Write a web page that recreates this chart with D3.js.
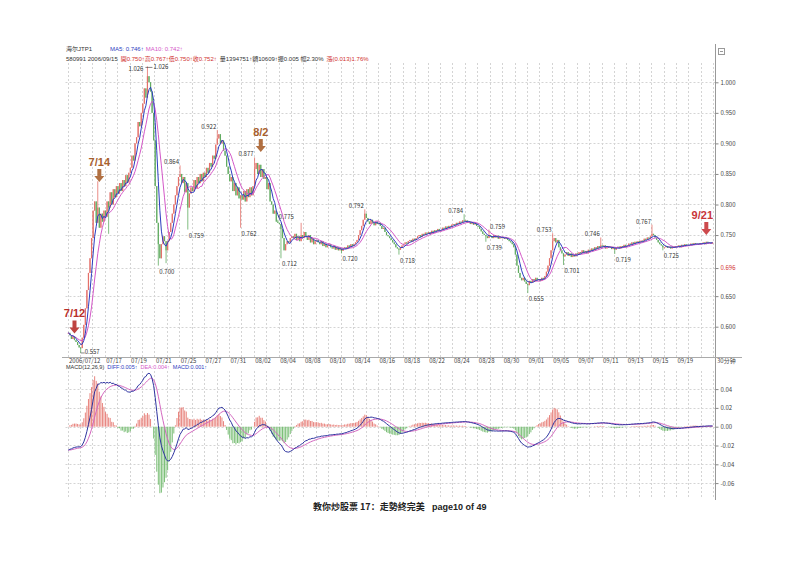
<!DOCTYPE html>
<html><head><meta charset="utf-8">
<script src="https://cdn.jsdelivr.net/npm/d3@7/dist/d3.min.js"></script>
<style>body{margin:0;background:#fff}svg{display:block}</style>
</head><body><svg id="c" width="800" height="566"></svg>
<script>
// ---------- DATA ----------
const dayLabels = ["07/12","07/13","07/14","07/17","07/18","07/19","07/20","07/21","07/24","07/25","07/26","07/27","07/28","07/31",
 "08/01","08/02","08/03","08/04","08/07","08/08","08/09","08/10","08/11","08/14","08/15","08/16","08/17","08/18",
 "08/21","08/22","08/23","08/24","08/25","08/28","08/29","08/30","08/31",
 "09/01","09/04","09/05","09/06","09/07","09/08","09/11","09/12","09/13","09/14","09/15","09/18","09/19","09/20","09/21"];
const barsPerDay = 8;
const xTickDays = [0,3,5,7,9,11,13,15,17,19,21,23,25,27,29,31,33,35,37,39,41,43,45,47,49];
const xTickLabels = ["2006/07/12","07/17","07/19","07/21","07/25","07/27","07/31","08/02","08/04","08/08","08/10","08/14","08/16",
 "08/18","08/22","08/24","08/28","08/30","09/01","09/05","09/07","09/11","09/13","09/15","09/19"];
// 30-minute closes, in thousandths of a yuan
const closes = [
 590,586,580,584,578,575,570,566,
 565,582,603,630,660,688,712,745,
 790,805,770,795,762,785,772,790,
 780,805,795,820,800,825,812,830,
 818,835,822,840,830,848,836,852,
 860,880,872,900,910,935,928,950,
 965,990,975,1010,1000,985,950,905,
 830,770,735,712,735,748,740,725,
 740,755,770,785,800,815,830,845,
 850,835,845,820,835,795,818,828,
 822,840,826,845,835,850,838,852,
 845,860,852,868,862,880,875,898,
 908,915,900,905,888,880,862,850,
 838,845,822,835,815,828,810,815,
 808,822,805,825,812,828,815,830,
 858,868,850,865,845,858,842,845,
 825,835,805,800,785,790,772,770,
 768,760,745,725,735,740,738,745,
 748,745,752,742,748,740,750,745,
 755,748,742,750,738,745,735,740,
 742,738,735,740,732,736,730,733,
 735,730,728,732,726,730,725,728,
 724,728,730,727,733,730,735,732,
 735,738,742,750,758,765,775,785,
 778,772,768,775,770,766,772,768,
 770,765,760,762,755,750,748,745,
 742,738,735,730,728,726,730,733,
 735,738,736,740,742,739,744,742,
 745,748,750,747,752,750,754,752,
 755,752,757,754,758,756,760,757,
 758,762,760,764,761,765,763,767,
 768,766,770,768,772,770,774,772,
 774,770,772,768,771,767,769,765,
 764,760,756,752,750,748,745,750,
 748,745,750,746,749,744,747,745,
 746,744,745,742,740,738,735,730,
 718,700,688,680,676,680,674,670,
 668,675,672,678,674,680,676,678,
 675,680,678,683,690,700,712,725,
 740,745,738,742,730,725,720,715,
 718,722,716,720,714,718,715,720,
 718,722,720,725,721,724,720,726,
 724,728,725,730,727,732,729,733,
 731,733,728,732,729,731,727,730,
 726,729,731,728,732,730,734,731,
 733,736,734,738,735,739,737,740,
 738,741,739,744,742,746,744,748,
 752,750,746,742,738,735,733,730,
 730,732,729,731,728,731,729,732,
 731,733,730,734,732,735,733,734,
 733,736,734,737,735,736,734,737,
 736,738,735,739,737,738,736,738
];
// extreme wicks: bar index, price (thousandths), kind (H/L labelled, h/l unlabelled)
const extremeBars   = [8,  19, 26, 51,  58, 63, 72, 77, 96, 111,120,135,137,150,176,191,213,255,269,271,296,312,319,343,352,376,383];
const extremeValues = [557,838,752,1026,700,704,864,759,922,762,877,775,712,770,720,792,718,784,739,759,655,753,701,746,719,767,725];
const extremeKinds  = ["L","h","l","H","L","l","H","L","H","L","H","H","L","h","L","H","L","H","L","H","L","H","L","H","L","H","L"];
const highLabelsOnRight = [135, 271];
// MACD seeds (values before the first bar)
const seedEma12 = 0.600, seedEma26 = 0.626, seedDea = -0.025;
// axis ticks
const priceTicks = [0.600,0.650,0.696,0.750,0.800,0.850,0.900,0.950,1.000];
const priceTickLabels = ["0.600","0.650","0.696","0.750","0.800","0.850","0.900","0.950","1.000"];
const macdTicks = [0.04,0.02,0,-0.02,-0.04,-0.06];
const macdTickLabels = ["0.04","0.02","0.00","-0.02","-0.04","-0.06"];
// hand annotations: text, bar, price at arrow tip
const noteTexts = ["7/12","7/14","8/2","9/21"];
const noteBars = [4,20,124,411];
const notePrices = [0.589,0.837,0.886,0.750];
// header texts
const header1 = [["海尔JTP1","#333"],["MA5: 0.746↑","#2c3cc0"],["MA10: 0.742↑","#d458c8"]];
const header2 = [["580991 2006/09/15","#333"],["開0.750↑高0.767↑低0.750↑收0.752↑","#d03030"],["量1394751↑額10609↑振0.005 幅2.30%","#333"],["漲(0.013)1.76%","#d03030"]];
const macdHeader = [["MACD(12,26,9)","#333"],["DIFF:0.005↑","#2c3cc0"],["DEA:0.004↑","#d458c8"],["MACD:0.001↑","#2c3cc0"]];

// ---------- STYLE ----------
const noteColors = ["#b8302c","#a8602e","#a8602e","#c8363a"];
const UP="#e4706a", DN="#62ac62";
const C_MA5="#2c3cc0", C_MA10="#d458c8", C_DIFF="#2e34a0", C_DEA="#d468c0";
const F="'Noto Sans CJK SC','DejaVu Sans',sans-serif";
const FH="'Liberation Sans','Noto Sans CJK SC',sans-serif";

const svg = d3.select("#c");
const N = closes.length;
const L = 67.5, R = 713.3, AX = 715.5;
const x = d3.scaleLinear().domain([0, N]).range([L, R]);
const xc = i => x(i + 0.5);
const y = d3.scaleLinear().domain([0.6, 1.0]).range([326.7, 82.3]);
const ym = d3.scaleLinear().domain([0, 0.04]).range([426.7, 389.1]);
const mainTop = 63, mainBot = 357, macdTop = 371, macdBot = 498;

// bars
const bars = closes.map((c, i) => {
  const cv = c / 1000, ov = (i === 0 ? closes[0] : closes[i - 1]) / 1000;
  return {i, o: ov, c: cv, h: Math.max(ov, cv), l: Math.min(ov, cv)};
});
extremeBars.forEach((b, k) => {
  const v = extremeValues[k] / 1000;
  if (extremeKinds[k].toUpperCase() === "H") bars[b].h = Math.max(bars[b].h, v);
  else bars[b].l = Math.min(bars[b].l, v);
});

// moving averages
function ma(n) { return closes.map((c, i) => d3.mean(closes.slice(Math.max(0, i - n + 1), i + 1)) / 1000); }
const ma5 = ma(5), ma10 = ma(10);
// MACD
let e12 = seedEma12, e26 = seedEma26, dea = seedDea;
const diffs = [], deas = [], hist = [];
closes.forEach(c => {
  const v = c / 1000;
  e12 = e12 * 11 / 13 + v * 2 / 13;
  e26 = e26 * 25 / 27 + v * 2 / 27;
  const d = e12 - e26;
  dea = dea * 8 / 10 + d * 2 / 10;
  diffs.push(d); deas.push(dea); hist.push(2 * (d - dea));
});

// ---------- GRID ----------
const g = svg.append("g");
const dayIdx = d3.range(0, dayLabels.length + 1);
g.selectAll(".vg").data(dayIdx).join("line")
  .attr("x1", d => Math.round(x(d * barsPerDay)) + 0.5).attr("x2", d => Math.round(x(d * barsPerDay)) + 0.5)
  .attr("y1", mainTop).attr("y2", mainBot).attr("stroke", "#d4d4d4").attr("stroke-dasharray", "2,2");
g.selectAll(".vg2").data(dayIdx).join("line")
  .attr("x1", d => Math.round(x(d * barsPerDay)) + 0.5).attr("x2", d => Math.round(x(d * barsPerDay)) + 0.5)
  .attr("y1", macdTop).attr("y2", macdBot).attr("stroke", "#d4d4d4").attr("stroke-dasharray", "2,2");
g.selectAll(".hg").data(priceTicks).join("line")
  .attr("x1", L - 2).attr("x2", AX).attr("y1", d => Math.round(y(d)) + 0.5).attr("y2", d => Math.round(y(d)) + 0.5)
  .attr("stroke", "#d4d4d4").attr("stroke-dasharray", "2,2");
g.selectAll(".hg2").data(macdTicks).join("line")
  .attr("x1", L - 2).attr("x2", AX).attr("y1", d => Math.round(ym(d)) + 0.5).attr("y2", d => Math.round(ym(d)) + 0.5)
  .attr("stroke", "#d4d4d4").attr("stroke-dasharray", "2,2");

// frame lines
svg.append("line").attr("x1", AX).attr("x2", AX).attr("y1", 44).attr("y2", 500).attr("stroke", "#999");
svg.append("line").attr("x1", 62).attr("x2", 742).attr("y1", 357.5).attr("y2", 357.5).attr("stroke", "#aaa");
svg.append("rect").attr("x", 718.5).attr("y", 48.5).attr("width", 6).attr("height", 6).attr("fill", "none").attr("stroke", "#999");
svg.append("line").attr("x1", 720).attr("x2", 723).attr("y1", 51.5).attr("y2", 51.5).attr("stroke", "#999");

// ---------- AXES ----------
const yAxis = d3.axisRight(y).tickValues(priceTicks).tickSize(3).tickFormat((d, k) => priceTickLabels[k]);
const ya = svg.append("g").attr("transform", `translate(${AX},0)`).call(yAxis);
ya.select(".domain").remove();
ya.selectAll("line").attr("stroke", "#888");
ya.selectAll("text").attr("font-size", 6).attr("font-family", F).attr("fill", (d) => d === 0.696 ? "#d03030" : "#444").attr("x", 5);

const mAxis = d3.axisRight(ym).tickValues(macdTicks).tickSize(3).tickFormat((d, k) => macdTickLabels[k]);
const ma_ = svg.append("g").attr("transform", `translate(${AX},0)`).call(mAxis);
ma_.select(".domain").remove();
ma_.selectAll("line").attr("stroke", "#888");
ma_.selectAll("text").attr("font-size", 6).attr("font-family", F).attr("fill", "#444").attr("x", 5);

const xa = svg.append("g");
xa.selectAll("text").data(xTickDays).join("text")
  .attr("x", d => x(d * barsPerDay) + 1.5).attr("y", 363)
  .attr("font-size", 6).attr("font-family", F).attr("fill", "#444")
  .text((d, k) => xTickLabels[k]);
svg.append("text").attr("x", 717).attr("y", 363).attr("font-size", 6).attr("font-family", F).attr("fill", "#444").text("30分钟");

// ---------- CANDLES ----------
const cg = svg.append("g");
cg.selectAll(".wk").data(bars).join("line")
  .attr("x1", d => xc(d.i)).attr("x2", d => xc(d.i))
  .attr("y1", d => y(d.h)).attr("y2", d => y(d.l))
  .attr("stroke", d => d.c >= d.o ? UP : DN).attr("stroke-width", 0.8);
cg.selectAll(".bd").data(bars).join("rect")
  .attr("x", d => xc(d.i) - 0.6).attr("width", 1.2)
  .attr("y", d => y(Math.max(d.o, d.c)))
  .attr("height", d => Math.max(1, Math.abs(y(d.o) - y(d.c))))
  .attr("fill", d => d.c >= d.o ? UP : DN);

const line = d3.line().x((d, i) => xc(i)).y(d => y(d));
svg.append("path").datum(ma10).attr("d", line).attr("fill", "none").attr("stroke", C_MA10).attr("stroke-width", 1);
svg.append("path").datum(ma5).attr("d", line).attr("fill", "none").attr("stroke", C_MA5).attr("stroke-width", 1);

// extreme labels
extremeBars.forEach((b, k) => {
  const kind = extremeKinds[k];
  if (kind !== "H" && kind !== "L") return;
  const v = extremeValues[k] / 1000;
  const px = xc(b), py = y(v);
  const t = svg.append("text").attr("font-size", 6).attr("font-family", F).attr("fill", "#333").text(v.toFixed(3));
  if (b === 51) { // peak: twin labels with leader
    t.attr("x", px - 4).attr("y", py + 5).attr("text-anchor", "end");
    svg.append("line").attr("x1", px - 2).attr("x2", px + 5).attr("y1", py + 1).attr("y2", py + 1).attr("stroke", "#333").attr("stroke-width", 0.6);
    svg.append("text").attr("font-size", 6).attr("font-family", F).attr("fill", "#333").attr("x", px + 6).attr("y", py + 3).text(v.toFixed(3));
  } else if (b === 8) {
    svg.append("line").attr("x1", px).attr("x2", px + 4).attr("y1", py).attr("y2", py).attr("stroke", "#333").attr("stroke-width", 0.6);
    t.attr("x", px + 4).attr("y", py + 1);
  } else if (kind === "H") {
    const right = highLabelsOnRight.includes(b);
    t.attr("x", right ? px + 1 : px - 1).attr("y", py - 1).attr("text-anchor", right ? "start" : "end");
  } else {
    t.attr("x", px + 1).attr("y", py + 8);
  }
});

// ---------- MACD ----------
const mg = svg.append("g");
mg.selectAll("line").data(hist).join("line")
  .attr("x1", (d, i) => xc(i)).attr("x2", (d, i) => xc(i))
  .attr("y1", ym(0)).attr("y2", d => ym(d))
  .attr("stroke", d => d >= 0 ? "#e8847e" : "#7cbf78").attr("stroke-width", 1);
const mline = d3.line().x((d, i) => xc(i)).y(d => ym(d));
svg.append("path").datum(deas).attr("d", mline).attr("fill", "none").attr("stroke", C_DEA).attr("stroke-width", 1);
svg.append("path").datum(diffs).attr("d", mline).attr("fill", "none").attr("stroke", C_DIFF).attr("stroke-width", 1);

// ---------- ANNOTATIONS ----------
noteTexts.forEach((t, k) => {
  const ax = xc(noteBars[k]), ay = y(notePrices[k]);
  svg.append("path")
    .attr("d", `M${ax - 2},${ay - 13} L${ax + 2},${ay - 13} L${ax + 2},${ay - 6} L${ax + 5},${ay - 6} L${ax},${ay} L${ax - 5},${ay - 6} L${ax - 2},${ay - 6} Z`)
    .attr("fill", noteColors[k]).attr("opacity", 0.9);
  svg.append("text").attr("x", ax + (k === 3 ? -4 : 0)).attr("y", ay - 16).attr("text-anchor", "middle")
    .attr("font-size", 11).attr("font-weight", "bold").attr("font-family", "'Liberation Sans',Arial,sans-serif")
    .attr("fill", noteColors[k]).text(t);
});

// ---------- HEADERS (segments laid out one after another) ----------
function headerLine(segs, x0, yp, gaps, size) {
  let cx = x0;
  segs.forEach((s, k) => {
    if (k > 0) cx += gaps[k - 1];
    const t = svg.append("text").attr("x", cx).attr("y", yp).attr("font-size", size)
      .attr("font-family", FH).attr("fill", s[1]).text(s[0]);
    cx += t.node().getComputedTextLength();
  });
}
headerLine(header1, 66, 51, [18, 2], 6);
headerLine(header2, 66, 60.5, [3, 3, 3], 6);
headerLine(macdHeader, 66, 369, [3, 3, 3], 5.5);

// ---------- FOOTER ----------
svg.append("text").attr("x", 313).attr("y", 510).attr("font-size", 9).attr("font-weight", "bold")
  .attr("font-family", F).attr("fill", "#222").text("教你炒股票 17：走勢終完美");
svg.append("text").attr("x", 432).attr("y", 510).attr("font-size", 9).attr("font-weight", "bold")
  .attr("font-family", "'Liberation Sans',Arial,sans-serif").attr("fill", "#222").text("page10 of 49");
</script>
</body></html>
